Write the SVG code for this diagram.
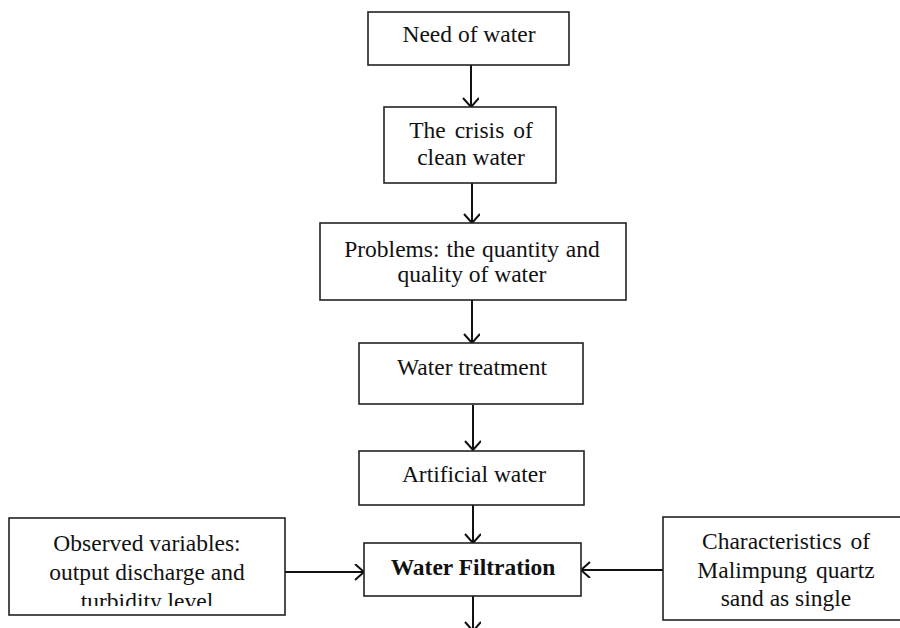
<svg xmlns="http://www.w3.org/2000/svg" width="900" height="628" viewBox="0 0 900 628">
<style>
.box{fill:#fff;stroke:#222;stroke-width:1.6}
.t{font-family:"Liberation Serif","Times New Roman",serif;font-size:23.5px;fill:#111;text-anchor:middle}
.b{font-weight:bold}
.c{fill:none;stroke:#111;stroke-width:2}
</style>
<defs>
<marker id="ah" markerUnits="userSpaceOnUse" markerWidth="14" markerHeight="18" refX="10" refY="8" orient="auto" viewBox="0 0 14 18">
<path d="M1,0 L10,8 L1,16" fill="none" stroke="#111" stroke-width="2"/>
</marker>
<clipPath id="clipL"><rect x="9" y="518" width="276" height="88"/></clipPath>
</defs>
<rect width="900" height="628" fill="#fff"/>
<g id="connectors">
<line class="c" x1="471" y1="65" x2="471" y2="107" marker-end="url(#ah)"/>
<line class="c" x1="472" y1="183" x2="472" y2="223" marker-end="url(#ah)"/>
<line class="c" x1="472" y1="300" x2="472" y2="343" marker-end="url(#ah)"/>
<line class="c" x1="473" y1="405" x2="473" y2="450" marker-end="url(#ah)"/>
<line class="c" x1="473" y1="505" x2="473" y2="543" marker-end="url(#ah)"/>
<line class="c" x1="473" y1="596" x2="473" y2="631" marker-end="url(#ah)"/>
<line class="c" x1="285" y1="572" x2="364" y2="572" marker-end="url(#ah)"/>
<line class="c" x1="663" y1="570" x2="581" y2="570" marker-end="url(#ah)"/>
</g>
<g id="need">
<rect class="box" x="368" y="12" width="201" height="53"/>
<text class="t" x="469" y="42">Need of water</text>
</g>
<g id="crisis">
<rect class="box" x="384" y="107" width="172" height="76"/>
<text class="t" x="471" y="138" word-spacing="3">The crisis of</text>
<text class="t" x="471" y="165">clean water</text>
</g>
<g id="problems">
<rect class="box" x="320" y="223" width="306" height="77"/>
<text class="t" x="472" y="257" word-spacing="1">Problems: the quantity and</text>
<text class="t" x="472" y="282">quality of water</text>
</g>
<g id="treatment">
<rect class="box" x="359" y="343" width="224" height="61"/>
<text class="t" x="472" y="375">Water treatment</text>
</g>
<g id="artificial">
<rect class="box" x="359" y="451" width="225" height="54"/>
<text class="t" x="474" y="482">Artificial water</text>
</g>
<g id="filtration">
<rect class="box" x="364" y="543" width="217" height="53"/>
<text class="t b" x="473" y="575">Water Filtration</text>
</g>
<g id="observed">
<rect class="box" x="9" y="518" width="276" height="97"/>
<g clip-path="url(#clipL)">
<text class="t" x="147" y="551">Observed variables:</text>
<text class="t" x="147" y="580">output discharge and</text>
<text class="t" x="147" y="609">turbidity level</text>
</g>
</g>
<g id="characteristics">
<rect class="box" x="663" y="517" width="250" height="103"/>
<text class="t" x="786" y="549" word-spacing="3">Characteristics of</text>
<text class="t" x="786" y="578" word-spacing="3">Malimpung quartz</text>
<text class="t" x="786" y="606">sand as single</text>
</g>
</svg>
